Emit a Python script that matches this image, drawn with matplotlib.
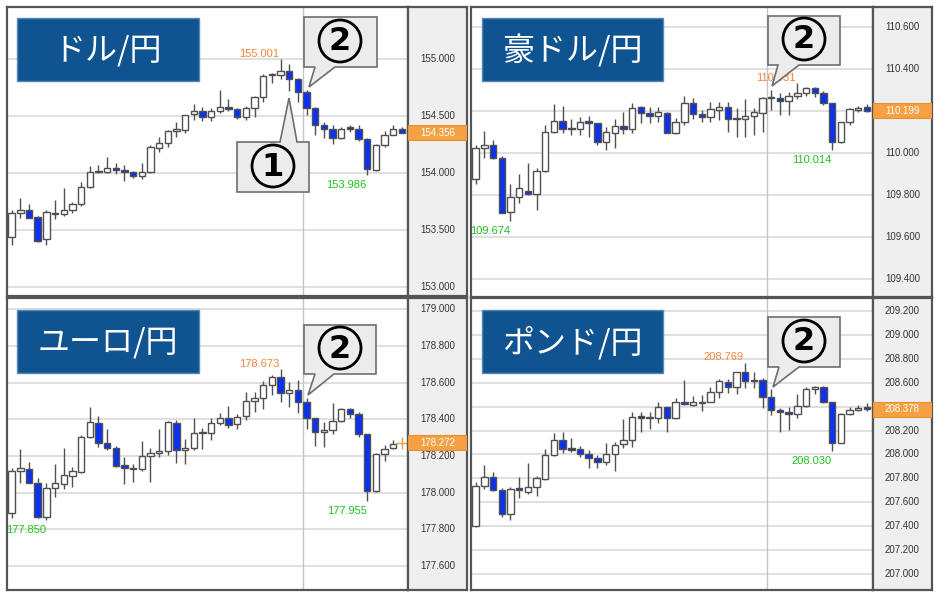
import numpy as np
import matplotlib.pyplot as plt
import matplotlib.transforms as mtransforms
from matplotlib.patches import Rectangle, Polygon, Circle

plt.rcParams['font.family'] = ['Liberation Sans', 'DejaVu Sans']

W, H = 937, 597

# ---- データ ----
pair_names = ["ドル/円", "豪ドル/円", "ユーロ/円", "ポンド/円"]

usd_open = [153.44, 153.65, 153.68, 153.62, 153.42, 153.64, 153.64, 153.68, 153.73, 153.88,
            154.01, 154.01, 154.05, 154.03, 154.01, 153.98, 154.01, 154.22, 154.27, 154.37,
            154.38, 154.52, 154.55, 154.49, 154.55, 154.58, 154.56, 154.49, 154.57, 154.67,
            154.86, 154.86, 154.90, 154.83, 154.71, 154.57, 154.42, 154.39, 154.31, 154.39,
            154.39, 154.30, 154.03, 154.25, 154.34, 154.39]
usd_high = [153.68, 153.78, 153.73, 153.63, 153.68, 153.77, 153.87, 153.75, 153.92, 154.06,
            154.07, 154.14, 154.09, 154.07, 154.02, 154.09, 154.25, 154.32, 154.38, 154.45,
            154.51, 154.61, 154.58, 154.57, 154.73, 154.65, 154.57, 154.59, 154.68, 154.87,
            154.88, 155.001, 154.96, 154.84, 154.73, 154.58, 154.45, 154.42, 154.41, 154.42,
            154.42, 154.31, 154.26, 154.37, 154.42, 154.41]
usd_low = [153.37, 153.61, 153.61, 153.40, 153.37, 153.60, 153.63, 153.65, 153.71, 153.87,
           154.00, 154.00, 153.99, 153.93, 153.96, 153.95, 154.00, 154.19, 154.23, 154.32,
           154.35, 154.47, 154.46, 154.46, 154.53, 154.55, 154.48, 154.47, 154.49, 154.63,
           154.79, 154.83, 154.72, 154.63, 154.51, 154.34, 154.31, 154.26, 154.30, 154.36,
           154.28, 153.986, 154.02, 154.23, 154.34, 154.35]
usd_close = [153.65, 153.68, 153.61, 153.41, 153.66, 153.65, 153.68, 153.73, 153.88, 154.01,
             154.02, 154.05, 154.03, 154.01, 153.98, 154.01, 154.23, 154.27, 154.37, 154.39,
             154.51, 154.55, 154.49, 154.55, 154.58, 154.56, 154.49, 154.57, 154.67, 154.85,
             154.865, 154.90, 154.83, 154.71, 154.57, 154.42, 154.39, 154.31, 154.39, 154.39,
             154.30, 154.04, 154.25, 154.34, 154.39, 154.356]

aud_open = [109.875, 110.021, 110.037, 109.973, 109.719, 109.790, 109.817, 109.802, 109.914, 110.097,
            110.152, 110.112, 110.113, 110.151, 110.140, 110.049, 110.092, 110.127, 110.111, 110.216,
            110.187, 110.175, 110.190, 110.092, 110.148, 110.235, 110.183, 110.168, 110.203, 110.219,
            110.163, 110.160, 110.176, 110.187, 110.262, 110.259, 110.248, 110.271, 110.283, 110.306,
            110.286, 110.235, 110.049, 110.144, 110.203, 110.216]
aud_high = [110.037, 110.103, 110.063, 109.984, 109.851, 109.898, 109.949, 109.925, 110.132, 110.232,
            110.222, 110.163, 110.168, 110.176, 110.143, 110.124, 110.159, 110.195, 110.235, 110.222,
            110.216, 110.216, 110.195, 110.167, 110.271, 110.259, 110.203, 110.240, 110.240, 110.240,
            110.211, 110.256, 110.211, 110.267, 110.298, 110.283, 110.290, 110.331, 110.314, 110.311,
            110.294, 110.238, 110.148, 110.213, 110.224, 110.230]
aud_low = [109.849, 109.976, 109.970, 109.711, 109.674, 109.763, 109.798, 109.727, 109.910, 110.092,
           110.095, 110.084, 110.084, 110.076, 110.037, 110.013, 110.024, 110.089, 110.092, 110.140,
           110.143, 110.148, 110.092, 110.087, 110.132, 110.160, 110.144, 110.144, 110.156, 110.097,
           110.076, 110.076, 110.084, 110.097, 110.203, 110.179, 110.179, 110.256, 110.271, 110.267,
           110.227, 110.014, 110.044, 110.130, 110.195, 110.192]
aud_close = [110.021, 110.037, 109.973, 109.714, 109.790, 109.830, 109.802, 109.914, 110.097, 110.152,
             110.113, 110.111, 110.144, 110.140, 110.052, 110.097, 110.127, 110.111, 110.211, 110.187,
             110.175, 110.192, 110.095, 110.148, 110.235, 110.183, 110.168, 110.206, 110.216, 110.163,
             110.159, 110.176, 110.192, 110.263, 110.259, 110.246, 110.271, 110.283, 110.310, 110.286,
             110.235, 110.049, 110.144, 110.206, 110.214, 110.199]

eur_open = [177.891, 178.118, 178.131, 178.055, 177.865, 178.024, 178.045, 178.091, 178.113, 178.302,
            178.382, 178.269, 178.245, 178.151, 178.136, 178.131, 178.200, 178.215, 178.229, 178.382,
            178.233, 178.242, 178.324, 178.327, 178.378, 178.405, 178.375, 178.420, 178.502, 178.515,
            178.587, 178.633, 178.542, 178.560, 178.493, 178.405, 178.329, 178.342, 178.391, 178.455,
            178.429, 178.318, 178.009, 178.213, 178.242]
eur_high = [178.136, 178.236, 178.167, 178.078, 178.055, 178.155, 178.245, 178.138, 178.315, 178.465,
            178.418, 178.345, 178.255, 178.193, 178.155, 178.284, 178.245, 178.347, 178.393, 178.396,
            178.291, 178.405, 178.351, 178.405, 178.433, 178.475, 178.427, 178.547, 178.551, 178.609,
            178.642, 178.673, 178.605, 178.615, 178.515, 178.405, 178.384, 178.487, 178.464, 178.464,
            178.442, 178.320, 178.215, 178.260, 178.287]
eur_low = [177.862, 178.051, 178.051, 177.860, 177.850, 177.978, 178.020, 178.033, 178.109, 178.296,
           178.247, 178.233, 178.142, 178.047, 178.060, 178.118, 178.056, 178.193, 178.205, 178.164,
           178.156, 178.233, 178.238, 178.287, 178.369, 178.351, 178.347, 178.396, 178.442, 178.456,
           178.533, 178.493, 178.465, 178.433, 178.347, 178.255, 178.251, 178.318, 178.384, 178.405,
           178.305, 177.955, 178.005, 178.173, 178.238]
eur_close = [178.118, 178.133, 178.055, 177.865, 178.024, 178.051, 178.095, 178.118, 178.302, 178.384,
             178.269, 178.245, 178.145, 178.136, 178.127, 178.200, 178.215, 178.227, 178.387, 178.233,
             178.245, 178.324, 178.331, 178.382, 178.405, 178.369, 178.415, 178.502, 178.515, 178.587,
             178.633, 178.542, 178.558, 178.493, 178.405, 178.333, 178.342, 178.391, 178.456, 178.431,
             178.318, 178.009, 178.209, 178.238, 178.267]

gbp_open = [207.401, 207.734, 207.813, 207.701, 207.497, 207.715, 207.681, 207.729, 207.790, 207.994,
            208.120, 208.045, 208.045, 208.000, 207.972, 207.933, 208.000, 208.084, 208.120, 208.310,
            208.305, 208.302, 208.394, 208.302, 208.436, 208.414, 208.436, 208.436, 208.520, 208.604,
            208.562, 208.688, 208.624, 208.624, 208.484, 208.372, 208.352, 208.338, 208.408, 208.548,
            208.562, 208.436, 208.098, 208.336, 208.372, 208.394]
gbp_high = [207.771, 207.910, 207.849, 207.720, 207.729, 207.812, 207.924, 207.818, 208.042, 208.176,
            208.185, 208.134, 208.073, 208.036, 207.994, 208.092, 208.101, 208.297, 208.352, 208.352,
            208.352, 208.436, 208.408, 208.476, 208.624, 208.490, 208.498, 208.568, 208.632, 208.632,
            208.694, 208.769, 208.694, 208.638, 208.545, 208.392, 208.400, 208.504, 208.562, 208.576,
            208.576, 208.440, 208.344, 208.400, 208.414, 208.428]
gbp_low = [207.393, 207.709, 207.692, 207.477, 207.449, 207.636, 207.664, 207.653, 207.785, 207.989,
           208.008, 208.022, 207.980, 207.888, 207.883, 207.910, 207.863, 208.056, 208.059, 208.185,
           208.213, 208.266, 208.190, 208.297, 208.414, 208.408, 208.364, 208.436, 208.470, 208.512,
           208.504, 208.554, 208.554, 208.392, 208.330, 208.185, 208.204, 208.302, 208.394, 208.506,
           208.428, 208.030, 208.092, 208.330, 208.364, 208.364]
gbp_close = [207.737, 207.813, 207.701, 207.497, 207.706, 207.701, 207.729, 207.799, 207.994, 208.120,
             208.045, 208.038, 208.000, 207.972, 207.933, 208.000, 208.078, 208.120, 208.310, 208.306,
             208.310, 208.394, 208.302, 208.436, 208.420, 208.436, 208.430, 208.520, 208.615, 208.568,
             208.688, 208.618, 208.615, 208.484, 208.372, 208.358, 208.338, 208.408, 208.548, 208.562,
             208.436, 208.098, 208.336, 208.372, 208.392, 208.378]

current_prices = [154.356, 110.199, 178.272, 208.378]
low_label_idx = [[41], [4, 41], [4, 41], [41]]

usd_ticks = [153.0, 153.5, 154.0, 154.5, 155.0]
aud_ticks = [109.4, 109.6, 109.8, 110.0, 110.2, 110.4, 110.6]
eur_ticks = [177.6, 177.8, 178.0, 178.2, 178.4, 178.6, 178.8, 179.0]
gbp_ticks = [207.0, 207.2, 207.4, 207.6, 207.8, 208.0, 208.2, 208.4, 208.6, 208.8, 209.0, 209.2]

ohlc = [(usd_open, usd_high, usd_low, usd_close),
        (aud_open, aud_high, aud_low, aud_close),
        (eur_open, eur_high, eur_low, eur_close),
        (gbp_open, gbp_high, gbp_low, gbp_close)]
ticks = [usd_ticks, aud_ticks, eur_ticks, gbp_ticks]

# ---- レイアウト (ピクセル) ----
plot_boxes = [(7, 7, 408, 296), (471, 7, 873, 297), (7, 298, 408, 590), (471, 298, 873, 590)]
strip_boxes = [(408, 7, 467, 296), (873, 7, 932, 297), (408, 298, 467, 590), (873, 298, 932, 590)]
ylims = [(152.924, 155.459), (109.313, 110.694), (177.469, 179.062), (206.862, 209.312)]
title_boxes = [(17, 18, 199, 81), (482, 18, 663, 81), (17, 310, 199, 373), (482, 310, 663, 373)]
cross_x = 33.55

BLUE = '#0a32f0'
EDGE = '#505050'


def px_axes(fig, box, **kw):
    x0, y0, x1, y1 = box
    return fig.add_axes([x0 / W, 1 - y1 / H, (x1 - x0) / W, (y1 - y0) / H], **kw)


fig = plt.figure(figsize=(W / 100, H / 100), dpi=100)
fig.patch.set_facecolor('white')

for k in range(4):
    o, h, l, c = [np.array(a, dtype=float) for a in ohlc[k]]
    x = np.arange(len(o))
    ax = px_axes(fig, plot_boxes[k])
    ax_s = px_axes(fig, strip_boxes[k])
    ylo, yhi = ylims[k]
    unit = (yhi - ylo) / (plot_boxes[k][3] - plot_boxes[k][1])   # 1px あたりの値

    ax.set_xlim(-0.54, 45.7)
    ax.set_ylim(ylo, yhi)
    ax.set_xticks([])
    ax.set_yticks([])
    for t in ticks[k]:
        ax.axhline(t, color='#dcdcdc', lw=1.3, zorder=0)
    ax.axvline(cross_x, color='#c4c4c4', lw=1, zorder=0.5)

    # ローソク足
    ax.vlines(x, l, h, color=EDGE, lw=1, zorder=2)
    body = np.abs(c - o)
    doji = body < 1.5 * unit
    colors = np.where(c >= o, 'white', BLUE).astype('<U7')
    colors[doji] = '#333333'
    ax.bar(x, np.maximum(body, 1.5 * unit), bottom=np.minimum(o, c), width=0.74,
           color=colors, edgecolor=EDGE, linewidth=1, zorder=3)

    # 高値・安値ラベル
    hi = int(np.argmax(h))
    ax.annotate(f"{h[hi]:.3f}", xy=(hi, h[hi]), xytext=(-1.2, 0.3), textcoords='offset points',
                ha='right', va='bottom', fontsize=8, color='#f5843c', zorder=5)
    for li in low_label_idx[k]:
        ax.annotate(f"{l[li]:.3f}", xy=(li, l[li]), xytext=(-0.5, -3.5), textcoords='offset points',
                    ha='right', va='top', fontsize=8, color='#1fc21f', zorder=5)
    if len(o) < 46:
        ax.plot(len(o), current_prices[k], marker='+', color='#e8a040', ms=9, mew=1, zorder=4,
                clip_on=False)

    for sp in ax.spines.values():
        sp.set_color('#555555')
        sp.set_linewidth(1.6)

    # 右側の価格軸
    ax_s.set_facecolor('#efefef')
    ax_s.set_xlim(0, 1)
    ax_s.set_ylim(ylo, yhi)
    ax_s.set_xticks([])
    ax_s.set_yticks([])
    cur = current_prices[k]
    for t in ticks[k]:
        if abs(t - cur) < 8 * unit:   # 現在値ボックスに隠れる目盛り
            continue
        ax_s.text(0.5, t, f"{t:.3f}", ha='center', va='center', fontsize=7, color='#333333')
    ax_s.add_patch(Rectangle((0, cur - 7.5 * unit), 1, 15 * unit, facecolor='#f5a043',
                             edgecolor='#e88f2e', lw=0.8, zorder=3))
    ax_s.text(0.5, cur, f"{cur:.3f}", ha='center', va='center', fontsize=7,
              color='white', zorder=4)
    for sp in ax_s.spines.values():
        sp.set_color('#555555')
        sp.set_linewidth(1.6)

# ---- オーバーレイ (タイトル・吹き出し) ----
ov = fig.add_axes([0, 0, 1, 1], zorder=10)
ov.set_xlim(0, W)
ov.set_ylim(H, 0)
ov.axis('off')
ov.patch.set_alpha(0)

for k in range(4):
    x0, y0, x1, y1 = title_boxes[k]
    ov.add_patch(Rectangle((x0, y0), x1 - x0, y1 - y0, facecolor='#0f5391',
                           edgecolor='#5b87b8', lw=1))
    ov.text((x0 + x1) / 2, (y0 + y1) / 2 + 1, pair_names[k], ha='center', va='center',
            fontsize=23, color='white', family=['Noto Sans CJK JP', 'DejaVu Sans'])

callouts = [
    ("2", [(304, 17), (377, 17), (377, 67), (335, 67), (309, 87), (315, 67), (304, 67)], (340, 41)),
    ("1", [(237, 142), (280, 142), (289, 98), (297, 142), (309, 142), (309, 192), (237, 192)], (273, 166)),
    ("2", [(768, 16), (840, 16), (840, 65), (799, 65), (772, 86), (778, 65), (768, 65)], (804, 39)),
    ("2", [(304, 325), (376, 325), (376, 374), (334, 374), (308, 395), (315, 374), (304, 374)], (340, 348)),
    ("2", [(768, 317), (840, 317), (840, 367), (799, 367), (773, 387), (779, 367), (768, 367)], (804, 341)),
]
for num, pts, (cx, cy) in callouts:
    ov.add_patch(Polygon(pts, closed=True, facecolor='#ececec', edgecolor='#6e6e6e', lw=1.2))
    ov.add_patch(Circle((cx, cy), 21, facecolor='#ececec', edgecolor='black', lw=2))
    ov.text(cx, cy + 1, num, ha='center', va='center', fontsize=23, fontweight='bold',
            color='black', family='DejaVu Sans')

fig.savefig('out.png', dpi=100)
